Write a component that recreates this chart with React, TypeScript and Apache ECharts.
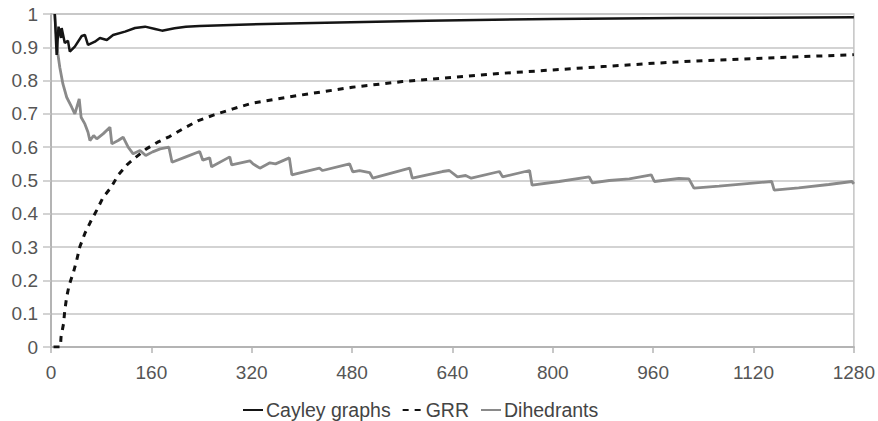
import React, { useEffect, useRef } from "react";
import * as echarts from "echarts";

const xTicks = [0, 160, 320, 480, 640, 800, 960, 1120, 1280];

const cayleyN = [6, 9, 12, 16, 17, 22, 27, 30, 38, 49, 54, 59, 70, 78, 89, 99, 118, 134, 150, 166, 177, 197, 215, 237, 300, 398, 478, 600, 800, 1000, 1280];
const cayleyV = [1.0, 0.877, 0.962, 0.928, 0.958, 0.913, 0.92, 0.887, 0.902, 0.934, 0.937, 0.907, 0.917, 0.928, 0.922, 0.937, 0.947, 0.958, 0.962, 0.955, 0.95, 0.957, 0.962, 0.964, 0.968, 0.972, 0.975, 0.98, 0.985, 0.988, 0.99];

const grrN = [4, 15, 16, 20, 22, 25, 29, 36, 41, 46, 54, 63, 73, 83, 96, 107, 121, 136, 152, 170, 189, 210, 235, 260, 290, 320, 360, 400, 480, 560, 640, 720, 800, 880, 960, 1040, 1120, 1200, 1280];
const grrV = [0, 0, 0.03, 0.07, 0.11, 0.15, 0.186, 0.226, 0.261, 0.301, 0.341, 0.376, 0.411, 0.449, 0.48, 0.516, 0.547, 0.571, 0.595, 0.615, 0.632, 0.655, 0.68, 0.697, 0.715, 0.732, 0.745, 0.757, 0.78, 0.797, 0.81, 0.822, 0.832, 0.842, 0.852, 0.86, 0.866, 0.872, 0.878];

const dihN = [6, 11, 14, 19, 25, 33, 38, 45, 48, 54, 59, 62, 68, 73, 83, 94, 97, 107, 115, 123, 131, 142, 151, 162, 174, 188, 193, 215, 237, 242, 253, 256, 285, 288, 317, 322, 333, 349, 358, 380, 384, 428, 433, 476, 481, 492, 508, 513, 572, 576, 624, 635, 648, 661, 670, 715, 720, 763, 767, 810, 858, 863, 890, 922, 957, 962, 1001, 1017, 1025, 1065, 1149, 1153, 1192, 1240, 1277, 1280];
const dihV = [1.0, 0.88, 0.84, 0.79, 0.75, 0.72, 0.70, 0.745, 0.69, 0.67, 0.645, 0.62, 0.635, 0.625, 0.64, 0.66, 0.61, 0.62, 0.63, 0.60, 0.58, 0.59, 0.575, 0.586, 0.595, 0.60, 0.555, 0.571, 0.587, 0.561, 0.568, 0.541, 0.571, 0.547, 0.559, 0.55, 0.537, 0.553, 0.55, 0.568, 0.517, 0.537, 0.53, 0.55, 0.526, 0.53, 0.524, 0.507, 0.537, 0.507, 0.527, 0.53, 0.511, 0.515, 0.507, 0.527, 0.511, 0.53, 0.486, 0.497, 0.511, 0.493, 0.50, 0.505, 0.517, 0.497, 0.506, 0.505, 0.477, 0.483, 0.497, 0.471, 0.478, 0.488, 0.497, 0.49];

const zip = (xs: number[], ys: number[]) => xs.map((x, i) => [x, ys[i]]);

export default function App() {
  const ref = useRef<HTMLDivElement>(null);
  useEffect(() => {
    if (!ref.current) return;
    const chart = echarts.init(ref.current, undefined, { renderer: "svg" });
    const font = "'Liberation Sans', Arial, sans-serif";
    chart.setOption({
      animation: false,
      backgroundColor: "#ffffff",
      grid: {
        left: 51,
        right: 23,
        top: 14,
        bottom: 74,
        show: true,
        borderColor: "#c4c4c4",
        borderWidth: 1.5,
      },
      legend: {
        left: 242,
        top: 400,
        padding: 0,
        itemWidth: 20,
        itemHeight: 10,
        itemGap: 11,
        itemStyle: { opacity: 0 },
        textStyle: { fontFamily: font, fontSize: 19.5, lineHeight: 18, color: "#444", padding: [0, 0, 0, -2] },
        data: ["Cayley graphs", "GRR", "Dihedrants"],
      },
      xAxis: {
        type: "value",
        min: 0,
        max: 1280,
        interval: 160,
        splitLine: { show: false },
        axisLine: { show: true, lineStyle: { color: "#b4b4b4", width: 2 } },
        axisTick: { show: true, length: 6, lineStyle: { color: "#b4b4b4", width: 1.5 } },
        axisLabel: {
          fontFamily: font,
          fontSize: 19,
          color: "#555",
          margin: 16,
          formatter: (v: number) => (xTicks.includes(v) ? String(v) : ""),
        },
      },
      yAxis: {
        type: "value",
        min: 0,
        max: 1,
        interval: 0.1,
        splitLine: { show: true, lineStyle: { color: "#c4c4c4", width: 1.5 } },
        axisLine: { show: true, lineStyle: { color: "#b4b4b4", width: 2 } },
        axisTick: { show: true, length: 8, lineStyle: { color: "#c4c4c4", width: 1.5 } },
        axisLabel: {
          fontFamily: font,
          fontSize: 19,
          color: "#555",
          margin: 13,
          formatter: (v: number) => String(Math.round(v * 10) / 10),
        },
      },
      series: [
        {
          name: "Cayley graphs",
          type: "line",
          data: zip(cayleyN, cayleyV),
          showSymbol: false,
          symbol: "none",
          lineStyle: { color: "#151515", width: 2.5 },
          itemStyle: { color: "#151515" },
          z: 4,
        },
        {
          name: "GRR",
          type: "line",
          data: zip(grrN, grrV),
          showSymbol: false,
          symbol: "none",
          lineStyle: { color: "#111", width: 3, type: [6, 6] },
          itemStyle: { color: "#111" },
          z: 3,
        },
        {
          name: "Dihedrants",
          type: "line",
          data: zip(dihN, dihV),
          showSymbol: false,
          symbol: "none",
          lineStyle: { color: "#8a8a8a", width: 2.8 },
          itemStyle: { color: "#8a8a8a" },
          z: 2,
        },
      ],
    });
    return () => chart.dispose();
  }, []);
  return (
    <div
      ref={ref}
      style={{ position: "absolute", left: 0, top: 0, width: 878, height: 421 }}
    />
  );
}
